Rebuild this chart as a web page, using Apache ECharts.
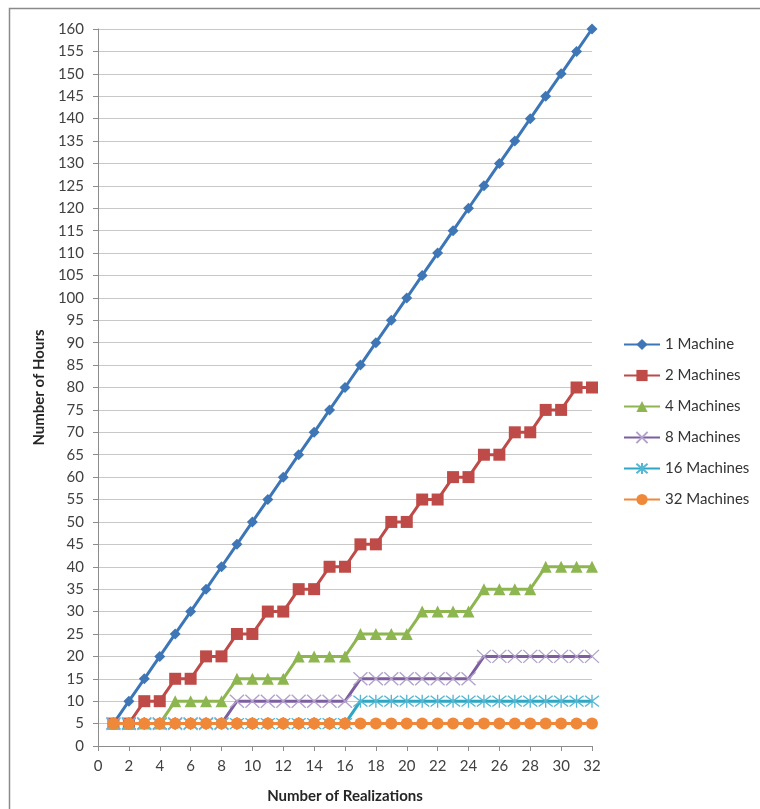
<!DOCTYPE html>
<html>
<head>
<meta charset="utf-8">
<script src="https://cdn.jsdelivr.net/npm/echarts@6/dist/echarts.min.js"></script>
<style>
  html, body { margin: 0; padding: 0; background: #fff; }
  #chart { width: 760px; height: 809px; }
</style>
</head>
<body>
<div id="chart"></div>
<script>
// Number of realizations on the x axis
const realizations = [1,2,3,4,5,6,7,8,9,10,11,12,13,14,15,16,17,18,19,20,21,22,23,24,25,26,27,28,29,30,31,32];

// Hours needed for each machine count
const hours1 = [5,10,15,20,25,30,35,40,45,50,55,60,65,70,75,80,85,90,95,100,105,110,115,120,125,130,135,140,145,150,155,160];
const hours2 = [5,5,10,10,15,15,20,20,25,25,30,30,35,35,40,40,45,45,50,50,55,55,60,60,65,65,70,70,75,75,80,80];
const hours4 = [5,5,5,5,10,10,10,10,15,15,15,15,20,20,20,20,25,25,25,25,30,30,30,30,35,35,35,35,40,40,40,40];
const hours8 = [5,5,5,5,5,5,5,5,10,10,10,10,10,10,10,10,15,15,15,15,15,15,15,15,20,20,20,20,20,20,20,20];
const hours16 = [5,5,5,5,5,5,5,5,5,5,5,5,5,5,5,5,10,10,10,10,10,10,10,10,10,10,10,10,10,10,10,10];
const hours32 = [5,5,5,5,5,5,5,5,5,5,5,5,5,5,5,5,5,5,5,5,5,5,5,5,5,5,5,5,5,5,5,5];

const seriesNames = ['1 Machine','2 Machines','4 Machines','8 Machines','16 Machines','32 Machines'];
const seriesValues = [hours1, hours2, hours4, hours8, hours16, hours32];

const lineColors = ['#3c76b7','#be4b48','#8db650','#7d5fa0','#2fa6c2','#f0883a'];
const markerColors = ['#3f76b6','#be4b48','#8db650','#b3a2cb','#55b7d2','#f0883a'];

const crossPath = 'path://M0,0L10,10M10,0L0,10';
const starPath = 'path://M0,0L10,10M10,0L0,10M5,-1L5,11';

const markerStyles = [
  { symbol: 'diamond', symbolSize: 11 },
  { symbol: 'rect', symbolSize: 12 },
  { symbol: 'triangle', symbolSize: 12 },
  { symbol: crossPath, symbolSize: [14, 13], stroke: true },
  { symbol: starPath, symbolSize: [14, 13], stroke: true },
  { symbol: 'circle', symbolSize: 12 }
];

const font = 'Lato, "Open Sans", sans-serif';

const series = seriesNames.map((name, i) => {
  const m = markerStyles[i];
  const itemStyle = m.stroke
    ? { color: 'rgba(0,0,0,0)', borderColor: markerColors[i], borderWidth: 1.3, opacity: 1 }
    : { color: markerColors[i] };
  return {
    name: name,
    type: 'line',
    data: realizations.map((r, k) => [r, seriesValues[i][k]]),
    symbol: m.symbol,
    symbolSize: m.symbolSize,
    showAllSymbol: true,
    lineStyle: { color: lineColors[i], width: 3 },
    itemStyle: itemStyle,
    z: 2 + i,
    animation: false
  };
});

const chart = echarts.init(document.getElementById('chart'));
chart.setOption({
  animation: false,
  backgroundColor: '#ffffff',
  graphic: [{
    type: 'rect',
    shape: { x: 9.5, y: 8.5, width: 760, height: 820 },
    style: { fill: 'none', stroke: '#8a8a8a', lineWidth: 1.5 },
    silent: true,
    z: -1
  }],
  grid: { left: 98, right: 168, top: 29, bottom: 57 },
  legend: {
    orient: 'vertical',
    left: 623,
    top: 337,
    padding: 0,
    itemWidth: 36,
    itemHeight: 14,
    itemGap: 16,
    data: seriesNames,
    textStyle: { fontFamily: font, fontSize: 15, lineHeight: 13, color: '#333' }
  },
  xAxis: {
    type: 'value',
    min: 0,
    max: 32,
    interval: 2,
    name: 'Number of Realizations',
    nameLocation: 'middle',
    nameGap: 43,
    nameTextStyle: { fontFamily: font, fontSize: 15, fontWeight: 'bold', color: '#262626' },
    axisLine: { show: true, lineStyle: { color: '#8c8c8c', width: 1 } },
    axisTick: { show: true, length: 5, lineStyle: { color: '#8c8c8c' } },
    axisLabel: { fontFamily: font, fontSize: 15, color: '#404040', margin: 13 },
    splitLine: { show: false }
  },
  yAxis: {
    type: 'value',
    min: 0,
    max: 160,
    interval: 5,
    name: 'Number of Hours',
    nameLocation: 'middle',
    nameGap: 49,
    nameTextStyle: { fontFamily: font, fontSize: 15, fontWeight: 'bold', color: '#262626' },
    axisLine: { show: true, lineStyle: { color: '#8c8c8c', width: 1 } },
    axisTick: { show: true, length: 5, lineStyle: { color: '#8c8c8c' } },
    axisLabel: { fontFamily: font, fontSize: 15, color: '#404040', margin: 14 },
    splitLine: { show: true, lineStyle: { color: '#c8c8c8', width: 1 } }
  },
  series: series
});
</script>
</body>
</html>
